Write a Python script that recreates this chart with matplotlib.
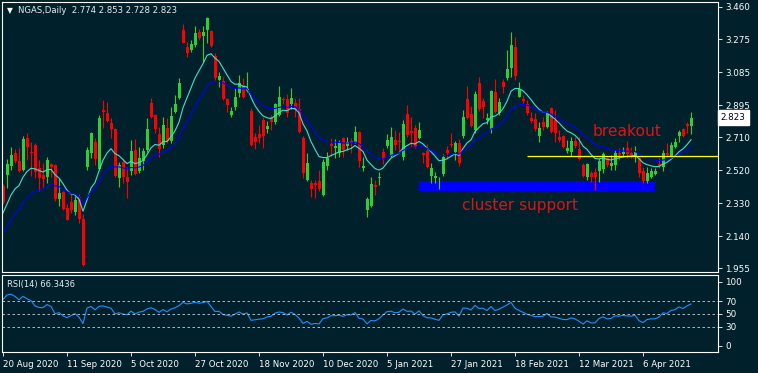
import numpy as np
import matplotlib.pyplot as plt
from matplotlib.patches import Rectangle
from matplotlib.transforms import blended_transform_factory

# NGAS daily candles
opens = [2.430, 2.493, 2.545, 2.619, 2.573, 2.522, 2.705, 2.625, 2.665, 2.533,
         2.493, 2.481, 2.556, 2.550, 2.354, 2.395, 2.303, 2.337, 2.280, 2.366,
         2.239, 2.539, 2.619, 2.682, 2.527, 2.866, 2.849, 2.792, 2.757, 2.476,
         2.567, 2.481, 2.516, 2.636, 2.516, 2.573, 2.636, 2.907, 2.838, 2.728,
         2.665, 2.763, 2.688, 2.855, 2.936, 3.327, 3.229, 3.212, 3.240, 3.315,
         3.292, 3.327, 3.321, 3.177, 3.039, 3.033, 2.930, 2.838, 2.884, 2.964,
         3.010, 2.976, 2.861, 2.711, 2.728, 2.809, 2.757, 2.826, 2.797, 2.838,
         2.930, 2.930, 2.901, 2.907, 2.872, 2.705, 2.464, 2.447, 2.447, 2.458,
         2.378, 2.545, 2.671, 2.648, 2.619, 2.705, 2.659, 2.688, 2.682, 2.740,
         2.533, 2.291, 2.314, 2.435, 2.476, 2.625, 2.659, 2.602, 2.694, 2.688,
         2.596, 2.843, 2.746, 2.763, 2.705, 2.619, 2.631, 2.487, 2.476, 2.430,
         2.499, 2.636, 2.671, 2.625, 2.677, 2.717, 2.930, 2.843, 2.751, 3.022,
         2.918, 2.809, 2.757, 2.970, 2.849, 3.028, 3.051, 3.108, 3.229, 2.941,
         2.930, 2.901, 2.820, 2.815, 2.717, 2.797, 2.769, 2.878, 2.809, 2.711,
         2.717, 2.631, 2.625, 2.688, 2.642, 2.550, 2.481, 2.504, 2.510, 2.516,
         2.527, 2.590, 2.545, 2.550, 2.619, 2.613, 2.648, 2.619, 2.596, 2.590,
         2.516, 2.453, 2.481, 2.499, 2.556, 2.539, 2.619, 2.602, 2.654, 2.717,
         2.757, 2.786, 2.774]
highs = [2.441, 2.585, 2.654, 2.642, 2.648, 2.717, 2.734, 2.682, 2.677, 2.579,
         2.562, 2.596, 2.562, 2.556, 2.476, 2.401, 2.326, 2.389, 2.372, 2.383,
         2.268, 2.654, 2.740, 2.705, 2.838, 2.924, 2.913, 2.820, 2.763, 2.567,
         2.585, 2.539, 2.694, 2.700, 2.654, 2.648, 2.820, 2.936, 2.843, 2.769,
         2.826, 2.820, 2.884, 2.953, 3.051, 3.361, 3.258, 3.269, 3.350, 3.333,
         3.350, 3.402, 3.327, 3.194, 3.085, 3.056, 2.936, 2.884, 2.993, 3.068,
         3.051, 3.085, 2.878, 2.734, 2.780, 2.826, 2.803, 2.838, 2.907, 3.005,
         2.941, 2.959, 2.993, 2.936, 2.936, 2.717, 2.619, 2.464, 2.464, 2.522,
         2.585, 2.625, 2.705, 2.700, 2.694, 2.711, 2.711, 2.705, 2.774, 2.746,
         2.596, 2.366, 2.481, 2.464, 2.510, 2.648, 2.728, 2.769, 2.751, 2.740,
         2.809, 2.895, 2.826, 2.780, 2.797, 2.625, 2.671, 2.562, 2.510, 2.481,
         2.613, 2.659, 2.734, 2.688, 2.700, 2.866, 3.005, 2.890, 2.976, 3.056,
         2.936, 2.849, 2.982, 3.045, 2.936, 3.045, 3.212, 3.315, 3.286, 3.028,
         2.953, 2.924, 2.855, 2.849, 2.797, 2.826, 2.861, 2.884, 2.866, 2.751,
         2.723, 2.694, 2.711, 2.711, 2.711, 2.562, 2.562, 2.516, 2.533, 2.590,
         2.625, 2.596, 2.608, 2.636, 2.648, 2.654, 2.688, 2.654, 2.659, 2.596,
         2.539, 2.539, 2.533, 2.533, 2.590, 2.636, 2.677, 2.682, 2.705, 2.751,
         2.763, 2.797, 2.853]
lows = [2.326, 2.418, 2.522, 2.562, 2.510, 2.516, 2.579, 2.487, 2.476, 2.401,
        2.418, 2.447, 2.481, 2.343, 2.314, 2.291, 2.231, 2.274, 2.262, 2.216,
        1.969, 2.522, 2.590, 2.550, 2.522, 2.763, 2.797, 2.705, 2.481, 2.424,
        2.447, 2.360, 2.493, 2.493, 2.504, 2.522, 2.625, 2.820, 2.734, 2.596,
        2.648, 2.677, 2.677, 2.849, 2.930, 3.250, 3.171, 3.200, 3.229, 3.269,
        3.143, 3.252, 3.229, 3.039, 2.999, 2.924, 2.855, 2.826, 2.866, 2.941,
        2.936, 2.970, 2.659, 2.642, 2.677, 2.648, 2.734, 2.751, 2.786, 2.832,
        2.901, 2.826, 2.872, 2.826, 2.734, 2.476, 2.458, 2.366, 2.360, 2.401,
        2.372, 2.522, 2.596, 2.590, 2.596, 2.596, 2.636, 2.619, 2.677, 2.539,
        2.516, 2.251, 2.308, 2.378, 2.435, 2.556, 2.648, 2.596, 2.636, 2.619,
        2.579, 2.711, 2.654, 2.648, 2.700, 2.562, 2.533, 2.447, 2.447, 2.412,
        2.487, 2.585, 2.654, 2.579, 2.545, 2.705, 2.815, 2.769, 2.734, 2.861,
        2.820, 2.786, 2.734, 2.849, 2.838, 2.964, 3.039, 3.056, 3.039, 2.941,
        2.907, 2.838, 2.792, 2.746, 2.682, 2.751, 2.763, 2.734, 2.682, 2.682,
        2.648, 2.619, 2.602, 2.648, 2.579, 2.481, 2.464, 2.453, 2.407, 2.453,
        2.504, 2.539, 2.522, 2.522, 2.579, 2.596, 2.590, 2.590, 2.567, 2.481,
        2.447, 2.447, 2.476, 2.493, 2.533, 2.516, 2.596, 2.596, 2.648, 2.682,
        2.711, 2.734, 2.728]
closes = [2.337, 2.556, 2.608, 2.573, 2.516, 2.700, 2.654, 2.619, 2.510, 2.476,
          2.470, 2.579, 2.539, 2.354, 2.389, 2.297, 2.234, 2.291, 2.349, 2.239,
          1.975, 2.636, 2.734, 2.585, 2.820, 2.855, 2.803, 2.757, 2.487, 2.550,
          2.481, 2.453, 2.631, 2.499, 2.590, 2.631, 2.757, 2.826, 2.757, 2.642,
          2.780, 2.688, 2.832, 2.901, 3.022, 3.252, 3.194, 3.246, 3.309, 3.281,
          3.315, 3.396, 3.235, 3.051, 3.062, 2.930, 2.895, 2.861, 2.941, 3.022,
          2.941, 2.987, 2.665, 2.682, 2.705, 2.717, 2.774, 2.797, 2.901, 2.941,
          2.924, 2.849, 2.936, 2.866, 2.740, 2.504, 2.562, 2.412, 2.435, 2.412,
          2.567, 2.590, 2.659, 2.659, 2.677, 2.636, 2.682, 2.677, 2.740, 2.573,
          2.545, 2.354, 2.441, 2.424, 2.481, 2.585, 2.694, 2.711, 2.665, 2.682,
          2.786, 2.723, 2.734, 2.654, 2.751, 2.608, 2.539, 2.533, 2.487, 2.453,
          2.596, 2.619, 2.665, 2.677, 2.562, 2.826, 2.820, 2.774, 2.959, 2.872,
          2.884, 2.820, 2.976, 2.855, 2.913, 2.999, 3.102, 3.240, 3.062, 2.987,
          2.918, 2.849, 2.803, 2.757, 2.763, 2.769, 2.849, 2.740, 2.734, 2.694,
          2.654, 2.648, 2.688, 2.659, 2.585, 2.487, 2.556, 2.481, 2.481, 2.573,
          2.613, 2.550, 2.562, 2.619, 2.608, 2.625, 2.613, 2.608, 2.625, 2.504,
          2.453, 2.504, 2.516, 2.516, 2.545, 2.619, 2.608, 2.665, 2.682, 2.740,
          2.717, 2.774, 2.823]

date_labels = ['20 Aug 2020', '11 Sep 2020', '5 Oct 2020', '27 Oct 2020',
               '18 Nov 2020', '10 Dec 2020', '5 Jan 2021', '27 Jan 2021',
               '18 Feb 2021', '12 Mar 2021', '6 Apr 2021']
bars_per_label = 16
price_ticks = [1.955, 2.140, 2.330, 2.520, 2.710, 2.895, 3.085, 3.275, 3.460]
rsi_ticks = [0, 30, 50, 70, 100]
rsi_levels = [30, 50, 70]

# moving averages / RSI settings, start values
fast_period, fast_start = 10, 2.274
slow_period, slow_start = 20, 2.159
rsi_period = 14
rsi_gain_start, rsi_loss_start = 0.036, 0.0135

breakout_level = 2.602
breakout_from = 131
support_low, support_high = 2.401, 2.458
support_from, support_to = 104, 163

BG = '#00212b'
UP = '#32cd32'
DOWN = '#ff0000'


def ema(values, period, start):
    a = 2.0 / (period + 1)
    out = [start]
    for v in values[1:]:
        out.append(out[-1] + a * (v - out[-1]))
    return np.array(out)


def rsi(values, period, g0, l0):
    ag, al = g0, l0
    out = [100 - 100 / (1 + ag / al)]
    for k in range(1, len(values)):
        d = values[k] - values[k - 1]
        ag = (ag * (period - 1) + max(d, 0)) / period
        al = (al * (period - 1) + max(-d, 0)) / period
        out.append(100 - 100 / (1 + ag / al))
    return np.array(out)


o = np.array(opens)
h = np.array(highs)
l = np.array(lows)
c = np.array(closes)
n = len(c)
x = np.arange(n)

W, H = 758, 373
fig = plt.figure(figsize=(W / 100, H / 100), dpi=100, facecolor=BG)
ax = fig.add_axes([2 / W, (H - 272) / H, 716 / W, 270 / H], facecolor=BG)
ax2 = fig.add_axes([2 / W, (H - 352) / H, 716 / W, 77 / H], facecolor=BG, sharex=ax)

# candles
cols = np.where(c >= o, UP, DOWN)
ax.vlines(x, l, h, colors=cols, linewidth=0.8)
ax.bar(x, np.maximum(np.abs(c - o), 0.004), width=0.75, bottom=np.minimum(o, c),
       color=cols, linewidth=0)

ax.plot(x, ema(c, fast_period, fast_start), color='#40e0d0', linewidth=0.8)
ax.plot(x, ema(c, slow_period, slow_start), color='#0000ff', linewidth=0.8)

# annotations
ax.hlines(breakout_level, breakout_from, n + 10, color='#ffff00', linewidth=0.9)
ax.add_patch(Rectangle((support_from, support_low), support_to - support_from,
                       support_high - support_low, color='#0000ff', linewidth=0))
ax.text(147.5, 2.740, 'breakout', color='#dc1414', fontsize=11.2, va='center', ha='left')
ax.text(114.8, 2.314, 'cluster support', color='#dc1414', fontsize=11, va='center', ha='left')

ax.set_xlim(-0.25, 178.75)
ax.set_ylim(1.934, 3.488)

for a in (ax, ax2):
    for s in a.spines.values():
        s.set_color('white')
        s.set_linewidth(0.8)
    a.yaxis.tick_right()
    a.tick_params(colors='white', labelsize=6.3, length=3, width=0.6, pad=2)

ax.set_yticks(price_ticks, [f'{t:.3f}' for t in price_ticks])
ax.tick_params(axis='x', bottom=False, labelbottom=False)

tr = blended_transform_factory(ax.transAxes, ax.transData)
ax.text(1.004, c[-1], f'{c[-1]:.3f}', transform=tr, fontsize=6.3, color='black',
        va='center', ha='left', clip_on=False,
        bbox=dict(boxstyle='square,pad=0.35', fc='white', ec='white'))

# RSI panel
ax2.plot(x, rsi(c, rsi_period, rsi_gain_start, rsi_loss_start), color='#1e90ff', linewidth=0.8)
for lv in rsi_levels:
    ax2.axhline(lv, color='#d0d0d0', linewidth=0.6, linestyle=(0, (3, 3)))
ax2.set_ylim(-9.4, 110.9)
ax2.set_yticks(rsi_ticks, [str(t) for t in rsi_ticks])
ax2.set_xticks(np.arange(len(date_labels)) * bars_per_label, date_labels, ha='left')
ax2.tick_params(axis='x', labelsize=6.2, pad=3)

fig.text(7 / W, 1 - 10.5 / H, '\u25bc', color='white', fontsize=5.5, va='center')
fig.text(18 / W, 1 - 10.5 / H, 'NGAS,Daily  2.774 2.853 2.728 2.823', color='#e6eef4',
         fontsize=6.15, va='center')
fig.text(7 / W, 1 - 284 / H, 'RSI(14) 66.3436', color='#e6eef4', fontsize=6.0, va='center')

fig.savefig('out.png', dpi=100, facecolor=BG)
